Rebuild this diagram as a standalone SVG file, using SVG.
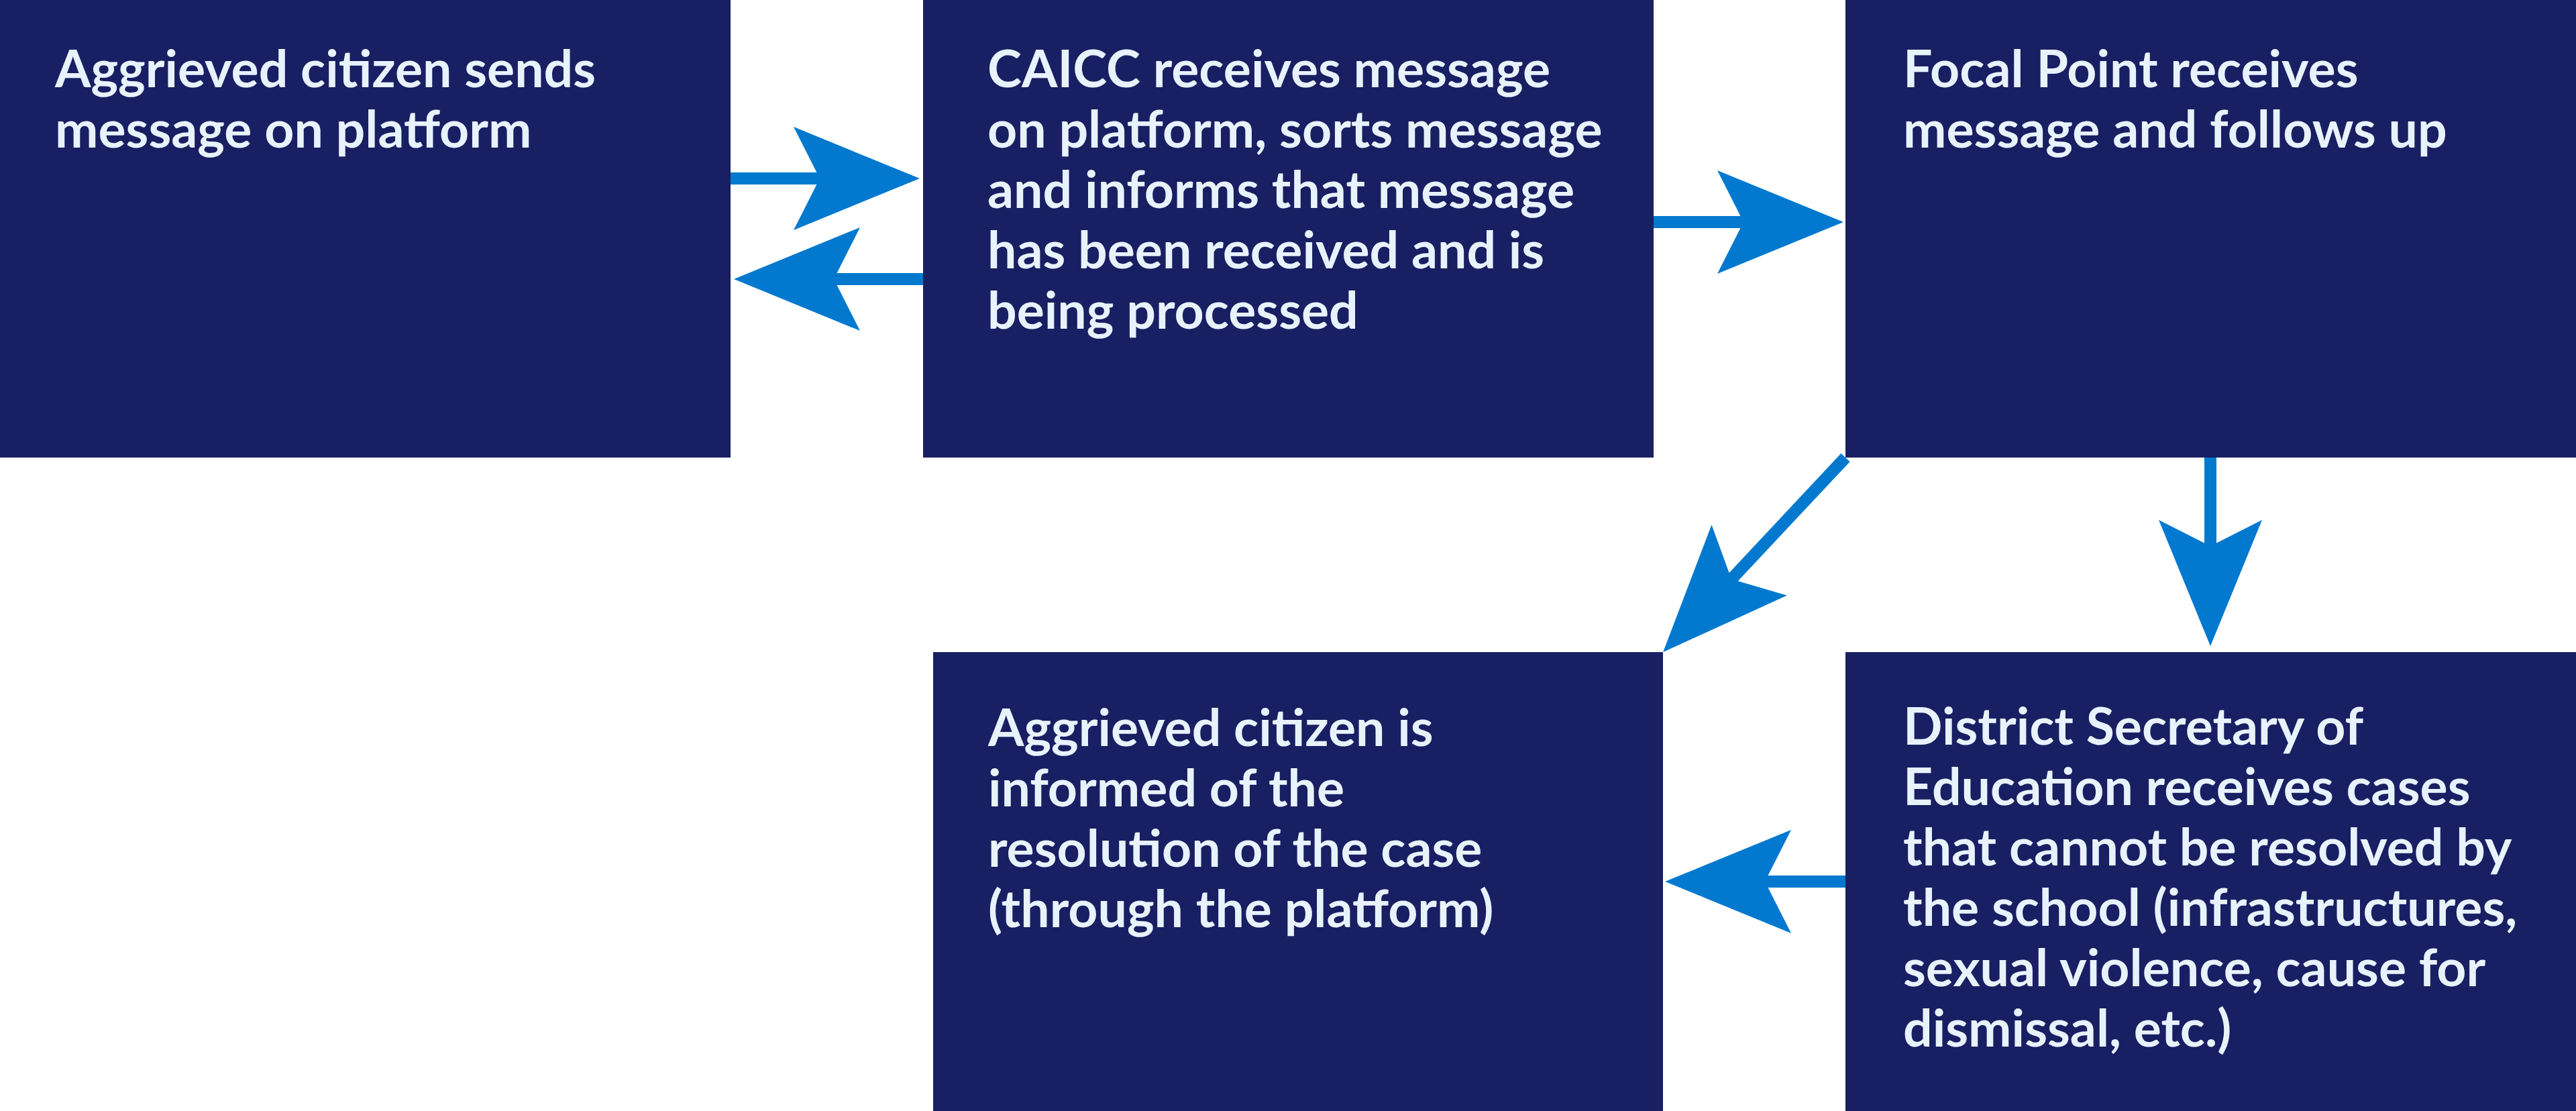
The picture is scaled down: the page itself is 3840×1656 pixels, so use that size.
<svg xmlns="http://www.w3.org/2000/svg" width="3840" height="1656" viewBox="0 0 3840 1656">
<style>
.box{fill:#181F62}
.t{font-family:Lato,"Noto Sans",sans-serif;font-weight:700;font-size:77px;fill:#E8F2FC}
.c{stroke:#0279CF;stroke-width:18;fill:none;marker-end:url(#ah)}
</style>
<defs>
<marker id="ah" markerUnits="userSpaceOnUse" markerWidth="188" markerHeight="154" viewBox="0 -77 188 154" refX="39" refY="0" orient="auto" overflow="visible">
<path d="M0,-77 L188,0 L0,77 L39,0 Z" fill="#0279CF"/>
</marker>
</defs>
<rect width="3840" height="1656" fill="#FFFFFF"/>
<g id="n1">
<rect class="box" x="0" y="0" width="1089" height="682"/>
<text class="t"><tspan x="82" y="130">Aggrieved citizen sends</tspan><tspan x="82" y="220">message on platform</tspan></text>
</g>
<g id="n2">
<rect class="box" x="1376" y="0" width="1089" height="682"/>
<text class="t"><tspan x="1472" y="130">CAICC receives message</tspan><tspan x="1472" y="220">on platform, sorts message</tspan><tspan x="1472" y="310">and informs that message</tspan><tspan x="1472" y="400">has been received and is</tspan><tspan x="1472" y="490">being processed</tspan></text>
</g>
<g id="n3">
<rect class="box" x="2751" y="0" width="1089" height="682"/>
<text class="t"><tspan x="2837" y="130">Focal Point receives</tspan><tspan x="2837" y="220">message and follows up</tspan></text>
</g>
<g id="n4">
<rect class="box" x="1391" y="972" width="1088" height="684"/>
<text class="t"><tspan x="1473" y="1112">Aggrieved citizen is</tspan><tspan x="1473" y="1202">informed of the</tspan><tspan x="1473" y="1292">resolution of the case</tspan><tspan x="1473" y="1382">(through the platform)</tspan></text>
</g>
<g id="n5">
<rect class="box" x="2751" y="972" width="1089" height="684"/>
<text class="t"><tspan x="2837" y="1110">District Secretary of</tspan><tspan x="2837" y="1200">Education receives cases</tspan><tspan x="2837" y="1290">that cannot be resolved by</tspan><tspan x="2837" y="1380">the school (infrastructures,</tspan><tspan x="2837" y="1470">sexual violence, cause for</tspan><tspan x="2837" y="1560">dismissal, etc.)</tspan></text>
</g>
<g id="connectors">
<line class="c" x1="1089" y1="266" x2="1222" y2="266"/>
<line class="c" x1="1376" y1="416" x2="1243" y2="416"/>
<line class="c" x1="2465" y1="331" x2="2599" y2="331"/>
<line class="c" x1="2751" y1="682" x2="2581" y2="863.3"/>
<line class="c" x1="3295" y1="682" x2="3295" y2="814"/>
<line class="c" x1="2751" y1="1314" x2="2631" y2="1314"/>
</g>
</svg>
